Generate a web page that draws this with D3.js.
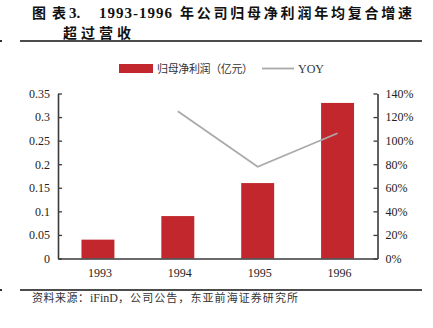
<!DOCTYPE html>
<html>
<head>
<meta charset="utf-8">
<script src="https://cdn.jsdelivr.net/npm/d3@7"></script>
<style>
  html, body { margin: 0; padding: 0; background: #fff; }
  svg { display: block; }
</style>
</head>
<body>
<svg id="chart" width="433" height="328"></svg>
<script>
// Net profit attributable to parent (100m CNY) and YoY growth, 1993-1996
const years = ["1993", "1994", "1995", "1996"];
const profit = [0.04, 0.09, 0.16, 0.33];
const yoyYears = ["1994", "1995", "1996"];
const yoy = [125, 77.8, 106.3];
const leftTicks = [0, 0.05, 0.1, 0.15, 0.2, 0.25, 0.3, 0.35];
const rightTicks = [0, 20, 40, 60, 80, 100, 120, 140];

const svg = d3.select("#chart");
const serif = "'Liberation Serif', 'Times New Roman', serif";
const cjk = "'Noto Sans CJK SC', sans-serif";
const red = "#c1272d";
const axisColor = "#3a3a3a";

const x0 = 58, x1 = 377.5, yTop = 93.5, yBottom = 258.5;

const x = d3.scaleBand().domain(years).range([x0, x1])
  .paddingInner(0.5875).paddingOuter(0.5875 / 2);
const y = d3.scaleLinear().domain([0, 0.35]).range([yBottom, yTop]);
const y2 = d3.scaleLinear().domain([0, 140]).range([yBottom, yTop]);

// Title (two lines, segments placed individually)
const title = svg.append("g").attr("font-weight", "bold").attr("fill", "#111").attr("font-size", 14);
title.append("text").attr("x", 32).attr("y", 17.5).attr("font-family", cjk)
  .attr("textLength", 34).text("图表");
title.append("text").attr("x", 69).attr("y", 17.5).attr("font-family", serif).attr("font-size", 15).text("3.");
title.append("text").attr("x", 99).attr("y", 17.5).attr("font-family", serif).attr("font-size", 15)
  .attr("textLength", 73).text("1993-1996");
title.append("text").attr("x", 180).attr("y", 17.5).attr("font-family", cjk)
  .attr("textLength", 232).text("年公司归母净利润年均复合增速");
title.append("text").attr("x", 63).attr("y", 37.5).attr("font-family", cjk)
  .attr("textLength", 68).text("超过营收");

// Rules
svg.append("line").attr("x1", 20).attr("x2", 422).attr("y1", 41).attr("y2", 41)
  .attr("stroke", "#111").attr("stroke-width", 1.5);
svg.append("line").attr("x1", 20).attr("x2", 422).attr("y1", 290).attr("y2", 290)
  .attr("stroke", "#111").attr("stroke-width", 1.5);
svg.append("rect").attr("x", 0).attr("y", 40).attr("width", 2).attr("height", 2).attr("fill", "#333");
svg.append("rect").attr("x", 0).attr("y", 289).attr("width", 2).attr("height", 2).attr("fill", "#333");

// Bars
svg.append("g").selectAll("rect").data(years).join("rect")
  .attr("x", d => x(d))
  .attr("width", x.bandwidth())
  .attr("y", (d, i) => y(profit[i]))
  .attr("height", (d, i) => y(0) - y(profit[i]))
  .attr("fill", red);

// YoY line
const line = d3.line()
  .x((d, i) => x(yoyYears[i]) + x.bandwidth() / 2)
  .y(d => y2(d));
svg.append("path").datum(yoy).attr("d", line)
  .attr("fill", "none").attr("stroke", "#aaaaaa").attr("stroke-width", 1.8);

// Left axis
const leftAxis = d3.axisLeft(y).tickValues(leftTicks).tickSize(-4).tickPadding(8)
  .tickSizeOuter(0).tickFormat(d => d3.format("")(+d.toFixed(2)));
const gl = svg.append("g").attr("transform", `translate(${x0},0)`).call(leftAxis);

// Right axis
const rightAxis = d3.axisRight(y2).tickValues(rightTicks).tickSize(-4).tickPadding(8)
  .tickSizeOuter(0).tickFormat(d => d + "%");
const gr = svg.append("g").attr("transform", `translate(${x1},0)`).call(rightAxis);

// Bottom axis
const bottomAxis = d3.axisBottom(x).tickSize(0).tickPadding(10).tickSizeOuter(0);
const gb = svg.append("g").attr("transform", `translate(0,${yBottom})`).call(bottomAxis);

[gl, gr, gb].forEach(g => {
  g.selectAll(".domain").attr("stroke", axisColor).attr("stroke-width", 1.6);
  g.selectAll(".tick line").attr("stroke", axisColor).attr("stroke-width", 1.3);
  g.selectAll(".tick text").attr("font-family", serif).attr("font-size", 12).attr("fill", "#222");
});
gr.selectAll(".tick text").attr("x", 8);
gb.selectAll(".tick text").attr("dx", 2);

// Legend
const legend = svg.append("g");
legend.append("rect").attr("x", 119).attr("y", 64).attr("width", 34).attr("height", 9).attr("fill", red);
legend.append("text").attr("x", 157).attr("y", 72.5).attr("font-family", cjk).attr("font-size", 11)
  .attr("fill", "#333").attr("textLength", 96).text("归母净利润（亿元）");
legend.append("line").attr("x1", 262).attr("x2", 294).attr("y1", 68.5).attr("y2", 68.5)
  .attr("stroke", "#aaaaaa").attr("stroke-width", 1.8);
legend.append("text").attr("x", 298).attr("y", 72.5).attr("font-family", serif).attr("font-size", 12)
  .attr("fill", "#333").text("YOY");

// Source note
const srcG = svg.append("g").attr("font-size", 11).attr("fill", "#333");
srcG.append("text").attr("x", 32).attr("y", 302).attr("font-family", cjk)
  .attr("textLength", 57).text("资料来源：");
srcG.append("text").attr("x", 90).attr("y", 302).attr("font-family", serif).attr("font-size", 12)
  .text("iFinD");
srcG.append("text").attr("x", 118).attr("y", 302).attr("font-family", cjk)
  .attr("textLength", 180).text("，公司公告，东亚前海证券研究所");
</script>
</body>
</html>
